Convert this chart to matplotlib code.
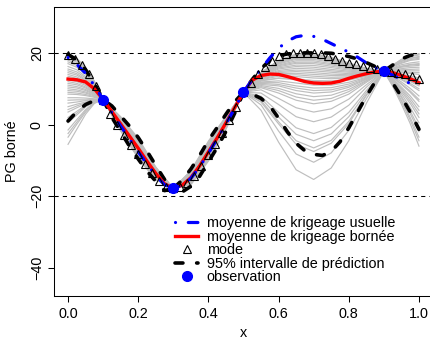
import matplotlib
matplotlib.use('Agg')
import matplotlib.pyplot as plt
import numpy as np

plt.rcParams['font.family'] = ['Liberation Sans', 'DejaVu Sans']

# grilles en x
x_fine = np.linspace(0, 1, 41)   # pas 0.025
x_mode = np.linspace(0, 1, 51)   # pas 0.02
x_gray = [0, .025, .05, .075, .1, .15, .2, .25, .3, .35, .4, .45, .5,
          .55, .6, .65, .7, .75, .8, .85, .9, .925, .95, .975, 1.0]

# observations
x_obs = [0.1, 0.3, 0.5, 0.9]
y_obs = [7.0, -17.8, 9.0, 14.9]

# moyenne de krigeage usuelle
krig_usual = [18.7, 16.8, 14.3, 10.9, 7.0,
              3.3, -0.4, -4.0, -7.6, -11.0, -14.2, -16.8, -17.8,
              -17.0, -15.0, -11.8, -8.0, -4.0, 0.2, 4.6, 9.0,
              12.6, 15.5, 18.6, 21.3, 23.3, 24.5, 24.9, 24.6,
              23.8, 22.6, 21.4, 20.2, 18.8, 17.2, 15.9, 14.9,
              13.8, 12.6, 11.5, 10.5]

# moyenne de krigeage bornée
krig_bounded = [12.7, 12.5, 11.9, 10.0, 7.0,
                3.6, 0.2, -3.2, -6.6, -10.2, -13.6, -16.5, -17.8,
                -16.9, -14.8, -11.5, -7.6, -3.7, 0.5, 4.8, 9.0,
                12.4, 13.7, 14.1, 14.0, 13.4, 12.7, 12.0, 11.6,
                11.5, 11.6, 12.1, 12.9, 13.6, 14.2, 14.7, 14.9,
                14.5, 13.7, 12.8, 11.7]

# intervalle de prédiction 95%
upper_95 = [19.6, 18.0, 15.3, 11.5, 7.0,
            5.2, 2.4, -0.4, -3.6, -7.4, -11.4, -15.3, -17.8,
            -15.5, -12.4, -8.6, -4.4, -0.8, 2.9, 6.4, 9.0,
            12.6, 15.6, 17.9, 19.2, 19.7, 19.9, 20.0, 20.0,
            20.0, 19.9, 19.5, 19.0, 18.3, 17.3, 16.2, 14.9,
            16.6, 18.3, 19.3, 19.7]
lower_95 = [1.0, 3.6, 5.6, 6.7, 7.0,
            2.0, -2.0, -6.0, -9.6, -13.0, -15.8, -18.4, -17.8,
            -18.8, -17.2, -14.4, -10.4, -6.4, -1.9, 3.2, 9.0,
            8.5, 7.3, 5.2, 1.8, -2.0, -5.2, -7.3, -8.3,
            -8.6, -7.5, -4.8, -0.9, 3.5, 7.9, 11.9, 14.9,
            11.6, 7.8, 3.5, -1.3]

# mode
mode = [19.5, 18.3, 16.5, 14.0, 10.8, 7.0,
        3.0, 0.0, -2.8, -5.6, -8.3, -11.0, -13.6, -15.8, -17.4, -17.8,
        -17.3, -16.2, -14.3, -11.6, -8.6, -5.5, -2.3, 1.3, 5.0, 9.0,
        11.6, 14.0, 16.1, 17.8, 19.0, 19.6, 19.9, 20.0, 20.0, 19.9,
        19.6, 19.0, 18.3, 17.8, 17.3, 16.8, 16.3, 15.8, 15.4, 14.9,
        14.7, 14.4, 14.0, 13.5, 12.8]

# trajectoires simulées (PG borné)
gray_paths = [
    [19.8, 18.5, 16.0, 12.1, 7.0, 0.9, -5.6, -13.0, -17.8, -15.2, -7.9, 0.2, 9.0, 14.5, 17.9, 19.7, 19.8, 18.8, 17.2, 15.7, 14.9, 16.6, 18.2, 19.3, 19.8],
    [18.5, 17.4, 15.1, 11.6, 7.0, -0.4, -7.4, -14.1, -17.8, -13.8, -5.9, 1.5, 9.0, 14.4, 17.7, 19.3, 19.4, 18.4, 17.0, 15.6, 14.9, 15.8, 16.7, 17.2, 17.5],
    [17.0, 16.0, 14.0, 11.0, 7.0, 1.6, -4.6, -12.3, -17.8, -14.5, -6.9, 0.8, 9.0, 14.2, 17.3, 18.7, 18.8, 17.9, 16.6, 15.4, 14.9, 14.7, 14.5, 14.3, 14.0],
    [15.5, 14.7, 13.0, 10.4, 7.0, -0.9, -8.1, -14.6, -17.8, -16.1, -9.2, -0.7, 9.0, 14.1, 16.9, 18.2, 18.2, 17.4, 16.2, 15.3, 14.9, 16.3, 17.7, 18.6, 19.0],
    [14.5, 13.8, 12.3, 10.0, 7.0, 0.6, -6.1, -13.3, -17.8, -13.1, -4.9, 2.1, 9.0, 13.8, 16.4, 17.4, 17.4, 16.7, 15.7, 15.0, 14.9, 14.1, 13.2, 12.2, 11.0],
    [13.5, 12.9, 11.6, 9.6, 7.0, -1.6, -9.1, -15.2, -17.8, -15.4, -8.2, 0.0, 9.0, 13.6, 15.8, 16.6, 16.5, 15.9, 15.2, 14.8, 14.9, 15.3, 15.6, 15.9, 16.0],
    [12.5, 12.0, 10.9, 9.2, 7.0, 1.3, -5.1, -12.6, -17.8, -14.1, -6.4, 1.2, 9.0, 13.3, 15.1, 15.7, 15.5, 15.0, 14.6, 14.5, 14.9, 13.5, 11.9, 10.1, 8.0],
    [11.5, 11.1, 10.2, 8.8, 7.0, 0.0, -6.9, -13.8, -17.8, -16.6, -9.9, -1.1, 9.0, 13.0, 14.5, 14.8, 14.5, 14.1, 13.9, 14.2, 14.9, 16.1, 17.1, 17.9, 18.2],
    [10.5, 10.2, 9.5, 8.4, 7.0, 2.2, -3.8, -11.8, -17.8, -14.7, -7.2, 0.6, 9.0, 12.7, 13.8, 13.9, 13.5, 13.2, 13.3, 13.9, 14.9, 14.5, 14.1, 13.6, 13.0],
    [9.5, 9.3, 8.8, 8.0, 7.0, -1.1, -8.4, -14.8, -17.8, -13.4, -5.4, 1.8, 9.0, 12.3, 13.0, 12.8, 12.3, 12.2, 12.6, 13.6, 14.9, 12.9, 10.5, 8.0, 5.0],
    [8.5, 8.4, 8.1, 7.6, 7.0, 0.8, -5.8, -13.1, -17.8, -15.6, -8.6, -0.3, 9.0, 11.9, 12.2, 11.6, 11.0, 11.0, 11.8, 13.2, 14.9, 14.9, 15.0, 15.0, 15.0],
    [7.5, 7.5, 7.4, 7.2, 7.0, -1.8, -9.4, -15.4, -17.8, -14.0, -6.2, 1.3, 9.0, 11.5, 11.2, 10.2, 9.5, 9.7, 10.8, 12.8, 14.9, 13.9, 12.7, 11.5, 10.0],
    [6.0, 6.3, 6.7, 6.9, 7.0, 1.0, -5.4, -12.8, -17.8, -16.2, -9.4, -0.8, 9.0, 10.9, 10.1, 8.6, 7.8, 8.2, 9.8, 12.3, 14.9, 12.3, 9.2, 5.9, 2.0],
    [5.0, 5.7, 6.3, 6.8, 7.0, -0.5, -7.6, -14.3, -17.8, -12.8, -4.6, 2.3, 9.0, 10.3, 8.8, 6.8, 5.8, 6.5, 8.5, 11.8, 14.9, 14.3, 13.6, 12.9, 12.0],
    [3.5, 4.7, 5.8, 6.7, 7.0, 1.8, -4.3, -12.1, -17.8, -15.0, -7.7, 0.3, 9.0, 9.7, 7.3, 4.7, 3.5, 4.4, 7.1, 11.1, 14.9, 15.6, 16.3, 16.8, 17.0],
    [2.0, 3.7, 5.4, 6.6, 7.0, -1.2, -8.6, -14.9, -17.8, -13.5, -5.6, 1.7, 9.0, 8.8, 5.6, 2.2, 0.8, 2.1, 5.4, 10.4, 14.9, 11.7, 7.9, 3.8, -1.0],
    [0.5, 2.7, 4.9, 6.4, 7.0, 0.4, -6.3, -13.4, -17.8, -16.8, -10.2, -1.3, 9.0, 7.9, 3.4, -0.9, -2.5, -0.8, 3.4, 9.5, 14.9, 13.3, 11.4, 9.4, 7.0],
    [-1.5, 1.4, 4.2, 6.2, 7.0, -0.2, -7.1, -13.9, -17.8, -14.3, -6.7, 1.0, 9.0, 6.7, 0.8, -4.5, -6.5, -4.4, 0.9, 8.3, 14.9, 11.2, 6.8, 2.0, -3.5],
    [-3.5, 0.1, 3.5, 6.1, 7.0, 1.5, -4.8, -12.4, -17.8, -15.9, -8.9, -0.5, 9.0, 5.5, -1.8, -8.2, -10.5, -7.9, -1.6, 7.2, 14.9, 12.7, 10.1, 7.3, 4.0],
    [-5.5, -1.3, 2.9, 5.9, 7.0, -0.6, -7.8, -14.4, -17.8, -13.3, -5.2, 1.9, 9.0, 4.0, -4.9, -12.6, -15.3, -12.1, -4.5, 5.9, 14.9, 10.7, 5.7, 0.3, -6.0],
    [16.2, 15.3, 13.4, 10.7, 7.0, 0.3, -6.4, -13.5, -17.8, -15.5, -8.4, -0.2, 9.0, 14.3, 17.4, 18.9, 19.0, 18.1, 16.7, 15.5, 14.9, 16.3, 17.6, 18.4, 18.8],
    [19.0, 17.8, 15.4, 11.8, 7.0, 0.1, -6.8, -13.7, -17.8, -14.4, -6.8, 0.9, 9.0, 13.9, 16.6, 17.8, 17.8, 17.0, 16.0, 15.1, 14.9, 15.6, 16.2, 16.6, 16.8],
    [11.0, 10.6, 9.8, 8.6, 7.0, 0.9, -5.6, -13.0, -17.8, -15.1, -7.8, 0.2, 9.0, 13.4, 15.5, 16.2, 16.0, 15.4, 14.9, 14.6, 14.9, 14.4, 13.8, 13.2, 12.5],
    [14.0, 13.3, 11.9, 9.8, 7.0, -0.6, -7.8, -14.4, -17.8, -13.8, -6.0, 1.4, 9.0, 12.5, 13.5, 13.4, 13.0, 12.8, 13.0, 13.8, 14.9, 14.8, 14.7, 14.6, 14.5],
    [18.0, 16.9, 14.7, 11.4, 7.0, 1.2, -5.2, -12.7, -17.8, -15.8, -8.8, -0.4, 9.0, 14.5, 17.8, 19.5, 19.6, 18.6, 17.1, 15.6, 14.9, 16.5, 18.0, 19.0, 19.4],
    [12.0, 11.5, 10.5, 9.0, 7.0, -1.3, -8.8, -15.0, -17.8, -16.3, -9.6, -0.9, 9.0, 14.2, 17.1, 18.5, 18.5, 17.6, 16.4, 15.3, 14.9, 13.8, 12.5, 11.1, 9.5],
    [17.5, 16.5, 14.4, 11.2, 7.0, 0.6, -6.0, -13.2, -17.8, -13.1, -5.0, 2.1, 9.0, 13.7, 16.1, 17.1, 17.0, 16.3, 15.5, 14.9, 14.9, 16.2, 17.3, 18.1, 18.5],
    [9.0, 8.8, 8.4, 7.8, 7.0, 2.0, -4.1, -12.0, -17.8, -15.4, -8.2, 0.0, 9.0, 13.1, 14.8, 15.2, 15.0, 14.6, 14.2, 14.4, 14.9, 15.5, 16.0, 16.3, 16.5],
    [13.0, 12.4, 11.2, 9.4, 7.0, -0.4, -7.4, -14.1, -17.8, -14.8, -7.4, 0.5, 9.0, 12.8, 14.2, 14.3, 14.0, 13.7, 13.6, 14.1, 14.9, 13.2, 11.2, 9.0, 6.5],
    [4.2, 5.2, 6.1, 6.7, 7.0, -0.9, -8.2, -14.6, -17.8, -14.1, -6.4, 1.2, 9.0, 11.7, 11.7, 10.8, 10.2, 10.3, 11.3, 13.0, 14.9, 12.5, 9.7, 6.6, 3.0],
    [10.0, 9.7, 9.1, 8.2, 7.0, 0.2, -6.6, -13.6, -17.8, -15.9, -9.0, -0.5, 9.0, 12.2, 12.9, 12.5, 12.0, 11.9, 12.4, 13.5, 14.9, 16.5, 18.1, 19.1, 19.6],
    [1.2, 3.2, 5.1, 6.5, 7.0, 0.9, -5.6, -13.0, -17.8, -14.5, -6.9, 0.8, 9.0, 10.6, 9.5, 7.7, 6.8, 7.3, 9.2, 12.1, 14.9, 12.0, 8.6, 4.8, 0.5],
    [15.0, 14.2, 12.6, 10.2, 7.0, -0.1, -7.0, -13.9, -17.8, -14.9, -7.6, 0.4, 9.0, 14.4, 17.5, 19.1, 19.2, 18.3, 16.8, 15.5, 14.9, 15.1, 15.3, 15.4, 15.5],
    [-2.5, 0.7, 3.9, 6.1, 7.0, 1.6, -4.6, -12.3, -17.8, -15.5, -8.4, -0.2, 9.0, 7.3, 2.1, -2.7, -4.5, -2.6, 2.2, 8.9, 14.9, 11.0, 6.4, 1.3, -4.5],
    [19.4, 18.2, 15.7, 12.0, 7.0, 0.4, -6.3, -13.4, -17.8, -13.9, -6.1, 1.3, 9.0, 11.2, 10.8, 9.5, 8.8, 9.1, 10.4, 12.6, 14.9, 11.5, 7.5, 3.1, -2.0],
    [6.8, 6.9, 6.9, 7.0, 7.0, -1.6, -9.2, -15.3, -17.8, -14.6, -7.1, 0.7, 9.0, 6.3, 0.2, -5.5, -7.5, -5.2, 0.3, 8.1, 14.9, 14.1, 13.1, 12.0, 10.8],
]

bounds = [-20, 20]

fig = plt.figure(figsize=(4.3, 3.39), dpi=100)
ax = fig.add_axes([54 / 430, 43 / 339, 379 / 430, 289 / 339])

for g in gray_paths:
    ax.plot(x_gray, g, color='#BEBEBE', lw=0.85, zorder=1)

for b in bounds:
    ax.axhline(b, color='black', lw=0.75, ls=(0, (4, 4)), zorder=2)

ax.plot(x_fine, upper_95, color='black', lw=2.6, ls=(0, (2.2, 3.8)),
        dash_capstyle='round', zorder=3, label='95% intervalle de prédiction')
ax.plot(x_fine, lower_95, color='black', lw=2.6, ls=(0, (2.2, 3.8)),
        dash_capstyle='round', zorder=3)
ax.plot(x_fine, krig_bounded, color='red', lw=2.4, zorder=4,
        label='moyenne de krigeage bornée')
ax.plot(x_fine, krig_usual, color='blue', lw=2.3, ls=(0, (0.01, 4, 3, 4)),
        dash_capstyle='round', zorder=5, label='moyenne de krigeage usuelle')
ax.plot(x_mode, mode, ls='none', marker='^', ms=5.3, mfc='none', mec='black',
        mew=0.8, zorder=6, label='mode')
ax.plot(x_obs, y_obs, ls='none', marker='o', ms=7, color='blue', zorder=7,
        label='observation')

ax.set_xlim(-0.04, 1.04)
ax.set_ylim(-47.8, 32.8)
ax.set_xticks([0, 0.2, 0.4, 0.6, 0.8, 1.0])
ax.set_xticklabels(['0.0', '0.2', '0.4', '0.6', '0.8', '1.0'])
ax.set_yticks([-40, -20, 0, 20])
ax.tick_params(direction='out', length=4.3, width=0.75, labelsize=10.4)
ax.tick_params(axis='x', pad=3.5)
ax.tick_params(axis='y', pad=3)
for lab in ax.get_yticklabels():
    lab.set_rotation(90)
    lab.set_verticalalignment('center')
for sp in ax.spines.values():
    sp.set_linewidth(0.75)

ax.set_xlabel('x', fontsize=10.4, va='center')
ax.xaxis.set_label_coords(0.5, -0.128)
ax.set_ylabel('PG borné', fontsize=10.4, va='center')
ax.yaxis.set_label_coords(-0.111, 0.5)

handles, labels = ax.get_legend_handles_labels()
order = [2, 1, 3, 0, 4]
ax.legend([handles[i] for i in order], [labels[i] for i in order],
          loc='upper left', bbox_to_anchor=(175 / 430, 1 - 216 / 339),
          bbox_transform=fig.transFigure, frameon=False, fontsize=10.4,
          borderpad=0, borderaxespad=0, handlelength=1.6, handletextpad=0.6,
          labelspacing=-0.03)

fig.savefig('out.png', dpi=100)
